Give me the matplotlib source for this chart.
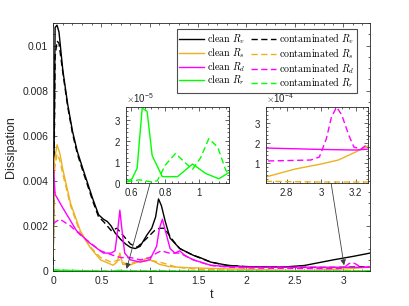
"""
Dissipation rates, clean vs contaminated run, with two zoomed insets.
"""

import matplotlib
matplotlib.use('Agg')
import matplotlib.pyplot as plt
from matplotlib.ticker import AutoMinorLocator, ScalarFormatter
from matplotlib.lines import Line2D

plt.rcParams['font.family'] = ['Liberation Sans', 'DejaVu Sans']
plt.rcParams['mathtext.fontset'] = 'cm'

# ---- data ----
t_rv_c = [0, 0.02, 0.04, 0.06, 0.1, 0.15, 0.2, 0.25, 0.31, 0.41, 0.47, 0.52,
          0.56, 0.6, 0.64, 0.7, 0.75, 0.8, 0.85, 0.9, 0.97, 1.02, 1.06, 1.09,
          1.12, 1.16, 1.21, 1.31, 1.45, 1.52, 1.63, 1.8, 1.97, 2.2, 2.38, 2.6,
          2.9, 3.1, 3.28]
rv_c = [0.0003, 0.0108, 0.0109, 0.0106, 0.0089, 0.0074, 0.0062, 0.0053,
        0.0045, 0.0032, 0.0025, 0.0023, 0.0022, 0.0020, 0.0017, 0.0014,
        0.0012, 0.00105, 0.001, 0.0011, 0.0016, 0.0019, 0.0024, 0.0032,
        0.0029, 0.0022, 0.00146, 0.001, 0.0007, 0.0006, 0.0004, 0.00026,
        0.0002, 0.00019, 0.00018, 0.00025, 0.0005, 0.00065, 0.0008]

t_rv_d = [0, 0.02, 0.04, 0.06, 0.1, 0.15, 0.2, 0.25, 0.31, 0.41, 0.47, 0.52,
          0.56, 0.6, 0.66, 0.7, 0.8, 0.87, 0.97, 1.05, 1.1, 1.15, 1.2, 1.25,
          1.31, 1.45, 1.63, 1.8, 2.0, 2.4, 2.8, 3.0, 3.28]
rv_d = [0.0003, 0.0095, 0.0102, 0.0101, 0.0088, 0.0073, 0.0061, 0.0052,
        0.0044, 0.0031, 0.0024, 0.0022, 0.002, 0.0018, 0.0019, 0.0017,
        0.0012, 0.00106, 0.00146, 0.0018, 0.0019, 0.0019, 0.0016, 0.0013,
        0.001, 0.0007, 0.0004, 0.00025, 0.0002, 0.00017, 0.00016, 0.00017,
        0.0002]

t_rs_c = [0, 0.01, 0.04, 0.07, 0.1, 0.18, 0.28, 0.38, 0.49, 0.62, 0.66, 0.69,
          0.72, 0.8, 0.9, 0.97, 1.03, 1.1, 1.2, 1.4, 1.8, 2.2, 2.5, 2.68,
          2.85, 3.0, 3.1, 3.2, 3.28]
rs_c = [0.0007, 0.0048, 0.0056, 0.0052, 0.0045, 0.003, 0.0018, 0.00106,
        0.0005, 0.00026, 0.0004, 0.0008, 0.0003, 0.00028, 0.00045, 0.00057,
        0.00045, 0.0003, 0.0002, 0.00015, 0.0001, 0.00006, 0.00003, 0.00003,
        0.00007, 0.000095, 0.000115, 0.000155, 0.00019]

t_rs_d = [0, 0.01, 0.04, 0.07, 0.1, 0.18, 0.28, 0.38, 0.49, 0.6, 0.69, 0.75,
          0.85, 1.0, 1.1, 1.2, 1.28, 1.5, 2.0, 2.5, 3.0, 3.28]
rs_d = [0.0006, 0.0044, 0.0052, 0.0049, 0.0043, 0.0029, 0.0017, 0.0011,
        0.0006, 0.0004, 0.0005, 0.0003, 0.0004, 0.00048, 0.0004, 0.00028,
        0.00017, 0.00008, 0.00003, 0.00001, 0.000005, 0.000005]

t_rd_c = [0, 0.02, 0.1, 0.24, 0.38, 0.52, 0.6, 0.64, 0.67, 0.69, 0.71, 0.74,
          0.8, 0.9, 1.0, 1.07, 1.1, 1.13, 1.16, 1.21, 1.26, 1.31, 1.36, 1.45,
          1.63, 1.8, 2.0, 2.4, 2.68, 3.0, 3.2, 3.28]
rd_c = [0.0048, 0.0034, 0.0028, 0.0018, 0.00124, 0.0008, 0.0008, 0.0009,
        0.0019, 0.0027, 0.0019, 0.0008, 0.0005, 0.0004, 0.0005, 0.0011,
        0.0019, 0.0023, 0.0018, 0.001, 0.0008, 0.0009, 0.0007, 0.0005,
        0.00026, 0.0002, 0.00018, 0.000175, 0.000175, 0.000168, 0.000165,
        0.00017]

t_rd_d = [0, 0.03, 0.07, 0.18, 0.31, 0.49, 0.62, 0.7, 0.8, 0.9, 1.0, 1.07,
          1.12, 1.2, 1.31, 1.45, 1.63, 1.8, 2.0, 2.4, 2.68, 2.94, 2.99, 3.03,
          3.06, 3.09, 3.12, 3.16, 3.19, 3.23, 3.28]
rd_d = [0.0021, 0.0022, 0.0023, 0.002, 0.0015, 0.0009, 0.0007, 0.0006,
        0.0006, 0.0005, 0.0006, 0.0008, 0.0009, 0.0008, 0.0008, 0.0005,
        0.00025, 0.00018, 0.00014, 0.00012, 0.00011, 0.000115, 0.00013,
        0.00022, 0.00033, 0.00038, 0.00034, 0.00024, 0.00018, 0.00017,
        0.0002]

t_rr_c = [0, 0.05, 0.1, 0.2, 0.3, 0.4, 0.5, 0.57, 0.606, 0.636, 0.666, 0.695,
          0.725, 0.785, 0.875, 0.964, 1.042, 1.12, 1.18, 1.4, 2.0, 3.28]
rr_c = [6e-5, 4e-5, 3.5e-5, 2.8e-5, 2e-5, 1.2e-5, 0.6e-5, 0.05e-5, 0.2e-5,
        0.7e-5, 3.55e-5, 3.4e-5, 1.3e-5, 0.3e-5, 0.3e-5, 0.9e-5, 0.45e-5,
        0.2e-5, 0.5e-5, 0.2e-5, 0.1e-5, 0.1e-5]

t_rr_d = [0, 0.05, 0.1, 0.2, 0.3, 0.4, 0.5, 0.57, 0.65, 0.72, 0.755, 0.803,
          0.863, 0.922, 0.964, 1.012, 1.06, 1.113, 1.161, 1.18, 1.4, 2.0, 3.28]
rr_d = [5e-5, 4e-5, 3.2e-5, 2.5e-5, 1.8e-5, 1e-5, 0.5e-5, 0.05e-5, 0.15e-5,
        0.05e-5, 0.1e-5, 0.85e-5, 1.4e-5, 0.95e-5, 0.65e-5, 1.2e-5, 2.1e-5,
        1.7e-5, 0.6e-5, 0.4e-5, 0.2e-5, 0.1e-5, 0.1e-5]

c_v, c_s, c_d, c_r = 'black', '#EDB120', '#FF00FF', '#00FF00'
axcol = '0.15'
dash = (0, (4.5, 2.5))


def style_axes(ax, fs=7.5):
    ax.tick_params(which='both', direction='in', top=True, right=True,
                   colors=axcol, labelsize=fs, width=0.5)
    ax.tick_params(which='major', length=3)
    ax.tick_params(which='minor', length=1.5)
    ax.xaxis.set_minor_locator(AutoMinorLocator(5))
    for s in ax.spines.values():
        s.set_color(axcol)
        s.set_linewidth(0.6)


fig = plt.figure(figsize=(4.09, 3.06), dpi=100)
ax = fig.add_axes([0.130, 0.114, 0.775, 0.811])

ax.plot(t_rv_c, rv_c, color=c_v, lw=1.0)
ax.plot(t_rv_d, rv_d, color=c_v, lw=1.0, linestyle=dash)
ax.plot(t_rs_c, rs_c, color=c_s, lw=1.0)
ax.plot(t_rs_d, rs_d, color=c_s, lw=1.0, linestyle=dash)
ax.plot(t_rd_c, rd_c, color=c_d, lw=1.0)
ax.plot(t_rd_d, rd_d, color=c_d, lw=1.0, linestyle=dash)
ax.plot(t_rr_c, rr_c, color=c_r, lw=1.0)
ax.plot(t_rr_d, rr_d, color=c_r, lw=1.0, linestyle=dash)

ax.set_xlim(0, 3.28)
ax.set_ylim(0, 0.011)
ax.set_xticks([0, 0.5, 1, 1.5, 2, 2.5, 3])
ax.set_xticklabels(['0', '0.5', '1', '1.5', '2', '2.5', '3'])
ax.set_yticks([0, 0.002, 0.004, 0.006, 0.008, 0.01])
ax.set_yticklabels(['0', '0.002', '0.004', '0.006', '0.008', '0.01'])
style_axes(ax)
ax.yaxis.set_minor_locator(AutoMinorLocator(4))
ax.set_xlabel('t', fontsize=9, color=axcol, labelpad=2)
ax.set_ylabel('Dissipation', fontsize=9, color=axcol, labelpad=4)

# legend, clean in the first column, contaminated in the second
names = ['v', 's', 'd', 'r']
cols = [c_v, c_s, c_d, c_r]
handles, labels = [], []
for n, c in zip(names, cols):
    handles.append(Line2D([], [], color=c, lw=1.0))
    labels.append(r'$\mathrm{clean}\ R_%s$' % n)
for n, c in zip(names, cols):
    handles.append(Line2D([], [], color=c, lw=1.0, linestyle=dash))
    labels.append(r'$\mathrm{contaminated}\ R_%s$' % n)
leg = ax.legend(handles, labels, ncol=2, loc='upper right',
                bbox_to_anchor=(0.957, 0.975), borderaxespad=0, fontsize=7.2,
                fancybox=False, framealpha=1, edgecolor='0.3',
                handlelength=2.5, handletextpad=0.3, columnspacing=0.5,
                labelspacing=0.0, borderpad=0.25)
leg.get_frame().set_linewidth(0.8)

# inset 1: R_r around the first peak
ax1 = fig.add_axes([0.308, 0.402, 0.252, 0.248])
ax1.plot(t_rr_c, rr_c, color=c_r, lw=1.0)
ax1.plot(t_rr_d, rr_d, color=c_r, lw=1.0, linestyle=dash)
ax1.set_xlim(0.57, 1.18)
ax1.set_ylim(0, 3.6e-5)
ax1.set_xticks([0.6, 0.8, 1.0])
ax1.set_xticklabels(['0.6', '0.8', '1'])
ax1.set_yticks([0, 1e-5, 2e-5, 3e-5])
fmt = ScalarFormatter(useMathText=True)
fmt.set_powerlimits((0, 0))
ax1.yaxis.set_major_formatter(fmt)
style_axes(ax1, 7)
ax1.yaxis.set_minor_locator(AutoMinorLocator(5))
ax1.yaxis.get_offset_text().set_fontsize(7)
ax1.yaxis.get_offset_text().set_color(axcol)

# inset 2: R_s and R_d near the end
ax2 = fig.add_axes([0.650, 0.402, 0.249, 0.248])
ax2.plot(t_rs_c, rs_c, color=c_s, lw=1.0)
ax2.plot(t_rs_d, rs_d, color=c_s, lw=1.0, linestyle=dash)
ax2.plot(t_rd_c, rd_c, color=c_d, lw=1.0)
ax2.plot(t_rd_d, rd_d, color=c_d, lw=1.0, linestyle=dash)
ax2.set_xlim(2.68, 3.27)
ax2.set_ylim(0, 3.8e-4)
ax2.set_xticks([2.8, 3.0, 3.2])
ax2.set_xticklabels(['2.8', '3', '3.2'])
ax2.set_yticks([1e-4, 2e-4, 3e-4])
fmt2 = ScalarFormatter(useMathText=True)
fmt2.set_powerlimits((0, 0))
ax2.yaxis.set_major_formatter(fmt2)
style_axes(ax2, 7)
ax2.yaxis.set_minor_locator(AutoMinorLocator(5))
ax2.yaxis.get_offset_text().set_fontsize(7)
ax2.yaxis.get_offset_text().set_color(axcol)

# arrows from the insets down to the region they show
aprops = dict(arrowstyle='-|>', color='0.25', lw=0.6, mutation_scale=8,
              shrinkA=0, shrinkB=0)
ax.annotate('', xy=(0.76, 0.0001), xycoords='data',
            xytext=(0.713, 0), textcoords=ax1.transData, arrowprops=aprops)
ax.annotate('', xy=(3.01, 0.00026), xycoords='data',
            xytext=(3.058, 0), textcoords=ax2.transData, arrowprops=aprops)

fig.savefig('out.png', dpi=100)
